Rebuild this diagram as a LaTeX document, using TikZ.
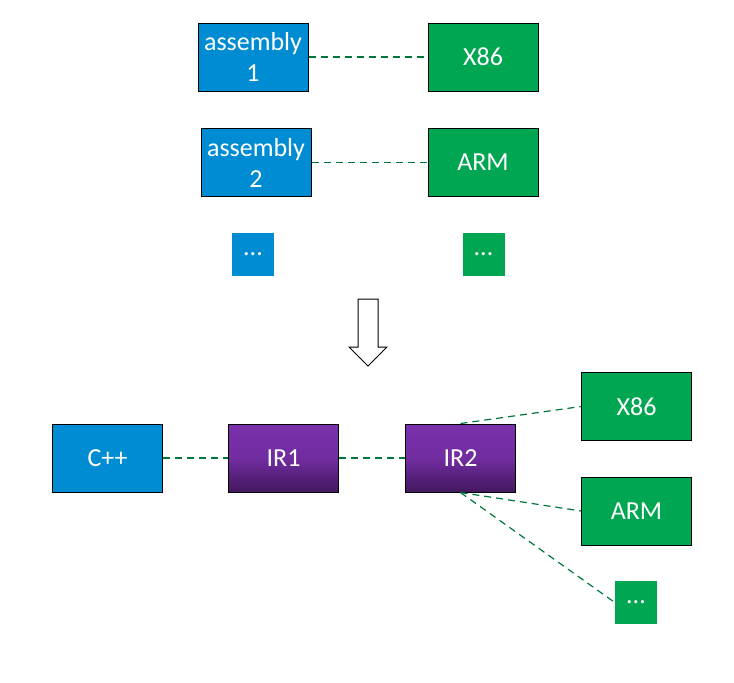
\documentclass[tikz,border=0pt]{standalone}
\usepackage{fontspec}
\setmainfont{Carlito}
\usetikzlibrary{positioning}

\definecolor{boxblue}{RGB}{0,140,210}
\definecolor{boxgreen}{RGB}{0,166,81}
\definecolor{linkgreen}{RGB}{0,118,58}
\definecolor{irtop}{RGB}{122,48,172}
\definecolor{irbot}{RGB}{66,24,94}

\begin{document}
\begin{tikzpicture}[x=1pt,y=-1pt,
	box/.style={rectangle,draw=black,line width=1pt,minimum width=110pt,minimum height=68pt,inner sep=0pt,text=white,font=\fontsize{26}{31}\selectfont,align=center},
	src/.style={box,fill=boxblue},
	tgt/.style={box,fill=boxgreen},
	ir/.style={box,top color=irtop,bottom color=irbot,middle color=irtop!85!irbot},
	more/.style={rectangle,minimum width=42pt,minimum height=43pt,inner sep=0pt,text=white,font=\fontsize{26}{31}\selectfont},
	link/.style={draw=linkgreen,line width=1.5pt,dash pattern=on 7pt off 5pt}]

\useasboundingbox (0,0) rectangle (734,683);

\node[src]   (asm1) at (253,57)     				{assembly\\1};
\node[tgt]   (x86a)[right of=asm1,node distance=230pt]     	{X86};
\node[src]   (asm2) at (256,162.5)     			{assembly\\2};
\node[tgt]   (arma) at (483,162.5)     			{ARM};
\node[more,fill=boxblue]   (dotsa) at (253,254.5)     	{...};
\node[more,fill=boxgreen]   (dotsb) at (483.5,254.5)    	{...};

\draw[line width=1pt,fill=white] (358,299) -- (378,299) -- (378,347) -- (387,347) -- (368,366) -- (349,347) -- (358,347) -- cycle;

\node[src]   (cpp) at (107.5,458)     				{C++};
\node[ir]   (ir1)[right of=cpp,node distance=176pt]     	{IR1};
\node[ir]   (ir2)[right of=ir1,node distance=177pt]     	{IR2};
\node[tgt]   (x86b) at (636.5,406.5)     			{X86};
\node[tgt]   (armb)[below of=x86b,node distance=104.5pt]     {ARM};
\node[more,fill=boxgreen]   (dotsc) at (636,602.5)    	{...};

	\path[link] (asm1)  edge 	(x86a)
						(asm2)  edge 	(arma)
						(cpp)  edge 	(ir1)
						(ir1)  edge 	(ir2)
						(ir2.north)  edge[line width=1.2pt] 	(x86b.west)
						(ir2.south)  edge[line width=1.2pt] 	(armb.west)
									edge[line width=1.2pt] 	(dotsc.west);

\end{tikzpicture}
\end{document}
